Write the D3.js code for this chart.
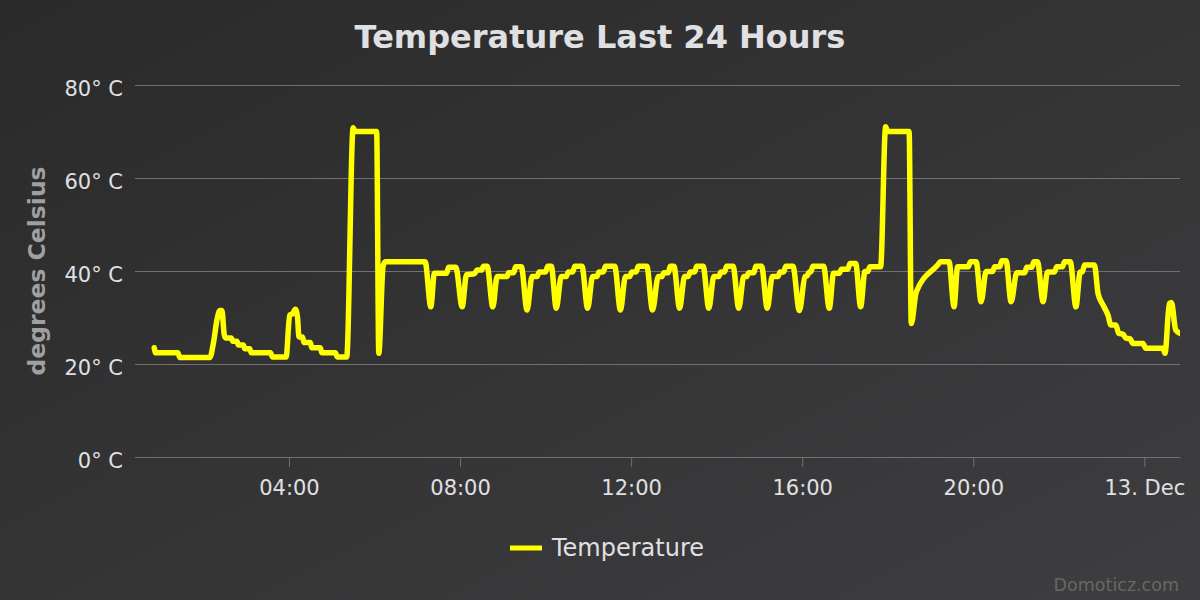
<!DOCTYPE html>
<html>
<head>
<meta charset="utf-8">
<script src="https://cdn.jsdelivr.net/npm/d3@7"></script>
<style>
body { margin: 0; background: #2a2a2b; }
svg { display: block; }
svg text { font-family: "DejaVu Sans", Verdana, sans-serif; }
</style>
</head>
<body>
<svg id="chart" width="1200" height="600"></svg>
<script>
// readings, Dec 12 00:51 -> Dec 13 00:50
var times = [
	"12 00:51", "12 00:53", "12 01:24", "12 01:27", "12 02:09", "12 02:14", "12 02:19", "12 02:23",
	"12 02:26", "12 02:29", "12 02:31", "12 02:39", "12 02:41", "12 02:47", "12 02:49", "12 02:56",
	"12 02:58", "12 03:05", "12 03:07", "12 03:34", "12 03:37", "12 03:56", "12 04:01", "12 04:05",
	"12 04:09", "12 04:12", "12 04:14", "12 04:19", "12 04:21", "12 04:30", "12 04:32", "12 04:44",
	"12 04:46", "12 05:05", "12 05:08", "12 05:21", "12 05:30", "12 05:33", "12 06:03", "12 06:06",
	"12 06:12", "12 06:15", "12 07:11", "12 07:19", "12 07:24", "12 07:41", "12 07:44", "12 07:54",
	"12 08:03", "12 08:09", "12 08:20", "12 08:24", "12 08:30", "12 08:33", "12 08:38", "12 08:46",
	"12 08:52", "12 09:06", "12 09:08", "12 09:15", "12 09:18", "12 09:26", "12 09:34", "12 09:41",
	"12 09:48", "12 09:51", "12 10:00", "12 10:03", "12 10:08", "12 10:15", "12 10:22", "12 10:29",
	"12 10:32", "12 10:38", "12 10:41", "12 10:51", "12 10:59", "12 11:06", "12 11:12", "12 11:15",
	"12 11:21", "12 11:24", "12 11:37", "12 11:45", "12 11:52", "12 11:58", "12 12:01", "12 12:07",
	"12 12:10", "12 12:22", "12 12:30", "12 12:38", "12 12:43", "12 12:46", "12 12:52", "12 12:55",
	"12 13:00", "12 13:08", "12 13:15", "12 13:20", "12 13:23", "12 13:29", "12 13:32", "12 13:41",
	"12 13:49", "12 13:56", "12 14:03", "12 14:06", "12 14:11", "12 14:14", "12 14:23", "12 14:31",
	"12 14:38", "12 14:42", "12 14:45", "12 14:52", "12 14:55", "12 15:03", "12 15:11", "12 15:18",
	"12 15:26", "12 15:29", "12 15:34", "12 15:37", "12 15:47", "12 15:56", "12 16:04", "12 16:07",
	"12 16:10", "12 16:12", "12 16:15", "12 16:30", "12 16:38", "12 16:44", "12 16:52", "12 16:55",
	"12 17:04", "12 17:07", "12 17:15", "12 17:22", "12 17:28", "12 17:32", "12 17:35", "12 17:50",
	"12 17:57", "12 18:00", "12 18:30", "12 18:33", "12 18:40", "12 19:10", "12 19:14", "12 19:26",
	"12 19:33", "12 19:38", "12 19:53", "12 19:56", "12 20:04", "12 20:11", "12 20:18", "12 20:27",
	"12 20:30", "12 20:37", "12 20:40", "12 20:46", "12 20:53", "12 21:01", "12 21:12", "12 21:15",
	"12 21:22", "12 21:25", "12 21:30", "12 21:38", "12 21:44", "12 21:54", "12 21:57", "12 22:05",
	"12 22:08", "12 22:16", "12 22:24", "12 22:30", "12 22:33", "12 22:36", "12 22:50", "12 22:55",
	"12 23:02", "12 23:09", "12 23:13", "12 23:20", "12 23:24", "12 23:30", "12 23:34", "12 23:40",
	"12 23:44", "12 23:58", "13 00:02", "13 00:26", "13 00:29", "13 00:35", "13 00:38", "13 00:44",
	"13 00:50"
];
var temps = [
	23.5, 22.4, 22.4, 21.4, 21.4, 24.5, 29.5, 31.5,
	31.5, 26.5, 25.6, 25.6, 24.9, 24.9, 24.1, 24.1,
	23.3, 23.3, 22.4, 22.4, 21.5, 21.5, 30.5, 30.8,
	31.8, 30.0, 25.8, 25.8, 24.6, 24.6, 23.5, 23.5,
	22.4, 22.4, 21.5, 21.5, 70.8, 70.0, 70.0, 22.3,
	41.0, 42.0, 42.0, 32.3, 39.5, 39.5, 40.8, 40.8,
	32.3, 39.2, 39.4, 40.2, 40.2, 41.0, 41.0, 32.3,
	38.8, 38.8, 39.6, 39.6, 40.9, 40.9, 31.6, 38.8,
	38.8, 39.8, 39.8, 41.0, 41.0, 32.0, 38.8, 38.8,
	39.8, 39.8, 41.0, 41.0, 32.0, 38.8, 38.8, 39.8,
	39.8, 41.0, 41.0, 31.6, 38.8, 38.8, 39.8, 39.8,
	41.0, 41.0, 31.6, 38.8, 38.8, 39.6, 39.6, 41.0,
	41.0, 32.0, 38.8, 38.8, 39.8, 39.8, 41.0, 41.0,
	32.0, 38.8, 38.8, 39.8, 39.8, 41.0, 41.0, 32.0,
	38.8, 38.8, 39.6, 39.6, 41.0, 41.0, 32.0, 38.8,
	38.8, 39.8, 39.8, 41.0, 41.0, 31.5, 38.8, 39.0,
	39.8, 39.8, 41.0, 41.0, 32.0, 39.5, 39.5, 40.4,
	40.4, 41.6, 41.6, 32.3, 39.9, 39.9, 40.9, 40.9,
	71.0, 70.0, 70.0, 28.7, 35.5, 41.3, 42.0, 42.0,
	32.3, 40.9, 40.9, 42.0, 42.0, 33.4, 39.9, 39.9,
	40.9, 40.9, 42.2, 42.2, 33.4, 39.6, 39.6, 40.8,
	40.8, 42.0, 42.0, 33.4, 39.8, 39.8, 40.9, 40.9,
	42.0, 42.0, 32.3, 39.8, 39.8, 41.3, 41.3, 35.2,
	32.7, 30.5, 28.4, 28.4, 26.6, 26.4, 25.6, 25.4,
	24.4, 24.4, 23.4, 23.4, 22.3, 33.0, 33.2, 27.3,
	26.6
];
var yTicks = [0, 20, 40, 60, 80];
var xRange = ["12 00:24", "13 00:50"];

var parseTime = function(s) { return d3.timeParse("%Y %m %d %H:%M")("2023 12 " + s); };

var data = times.map((t, i) => ({ time: parseTime(t), temp: temps[i] }));

var svg = d3.select("#chart");
var plotLeft = 135, plotRight = 1180, plotTop = 85, plotBottom = 457;

// background
var defs = svg.append("defs");
var grad = defs.append("linearGradient")
	.attr("id", "bg")
	.attr("x1", 0).attr("y1", 0).attr("x2", 1).attr("y2", 1);
grad.append("stop").attr("offset", 0).attr("stop-color", "#2a2a2b");
grad.append("stop").attr("offset", 1).attr("stop-color", "#3e3e40");
defs.append("clipPath").attr("id", "plotclip")
	.append("rect").attr("x", plotLeft).attr("y", plotTop - 10)
	.attr("width", plotRight - plotLeft).attr("height", plotBottom - plotTop + 20);

svg.append("rect").attr("width", 1200).attr("height", 600).attr("fill", "url(#bg)");

var x = d3.scaleTime()
	.domain(xRange.map(parseTime))
	.range([plotLeft, plotRight]);
var y = d3.scaleLinear()
	.domain([0, 80])
	.range([plotBottom, plotTop]);

// y axis + grid
var yAxis = svg.append("g")
	.attr("transform", "translate(" + plotLeft + ",0)")
	.call(d3.axisLeft(y).tickValues(yTicks).tickSize(-(plotRight - plotLeft)).tickPadding(12)
		.tickFormat(d => d + "° C"));
yAxis.select(".domain").remove();
yAxis.selectAll("line").attr("stroke", "#707073").attr("stroke-width", 1.2);
yAxis.selectAll("text")
	.attr("fill", "#e0e0e3")
	.style("font-size", "21px")
	.attr("dy", "0.51em");

// x axis
var fmtHour = d3.timeFormat("%H:%M"), fmtDay = d3.timeFormat("%-d. %b");
var xAxis = svg.append("g")
	.attr("transform", "translate(0," + plotBottom + ")")
	.call(d3.axisBottom(x).ticks(d3.timeHour.every(4)).tickSize(10).tickSizeOuter(0).tickPadding(13)
		.tickFormat(d => d.getHours() == 0 ? fmtDay(d) : fmtHour(d)));
xAxis.select(".domain").attr("stroke", "#707073").attr("stroke-width", 1.2);
xAxis.selectAll("line").attr("stroke", "#707073");
xAxis.selectAll("text")
	.attr("fill", "#e0e0e3")
	.style("font-size", "21px");

// line
var line = d3.line()
	.x(d => x(d.time))
	.y(d => y(d.temp))
	.curve(d3.curveMonotoneX);

svg.append("path")
	.datum(data)
	.attr("clip-path", "url(#plotclip)")
	.attr("fill", "none")
	.attr("stroke", "#ffff00")
	.attr("stroke-width", 5.5)
	.attr("stroke-linejoin", "round")
	.attr("stroke-linecap", "round")
	.attr("d", line);

// titles
svg.append("text")
	.attr("x", 600).attr("y", 48)
	.attr("text-anchor", "middle")
	.attr("fill", "#e0e0e3")
	.style("font-size", "32px")
	.style("font-weight", "bold")
	.text("Temperature Last 24 Hours");

svg.append("text")
	.attr("transform", "translate(45," + ((plotTop + plotBottom) / 2) + ") rotate(-90)")
	.attr("text-anchor", "middle")
	.attr("fill", "#a0a0a3")
	.style("font-size", "23.5px")
	.style("font-weight", "bold")
	.text("degrees Celsius");

// legend
var legend = svg.append("g").attr("transform", "translate(510,548)");
legend.append("line")
	.attr("x1", 0).attr("x2", 32)
	.attr("stroke", "#ffff00").attr("stroke-width", 5);
legend.append("text")
	.attr("x", 42).attr("y", 8)
	.attr("fill", "#e0e0e3")
	.style("font-size", "24px")
	.text("Temperature");

// credits
svg.append("text")
	.attr("x", 1179).attr("y", 591)
	.attr("text-anchor", "end")
	.attr("fill", "#666")
	.style("font-size", "17.5px")
	.text("Domoticz.com");
</script>
</body>
</html>
